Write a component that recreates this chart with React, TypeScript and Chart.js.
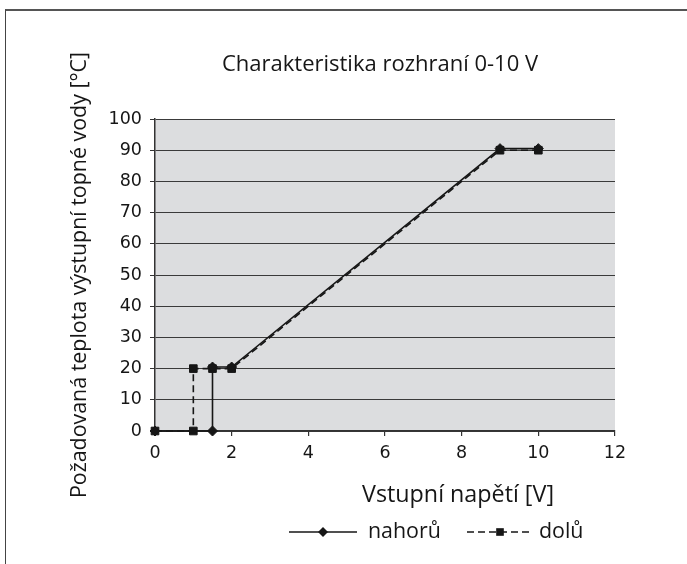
import React, { useEffect, useRef } from "react";
import { Chart, registerables } from "chart.js";

Chart.register(...registerables);

const chartTitle = "Charakteristika rozhraní 0-10 V";
const xAxisTitle = "Vstupní napětí [V]";
const yAxisTitle = "Požadovaná teplota výstupní topné vody [°C]";
const seriesNames = ["nahorů", "dolů"];

const nahoruX = [0, 1.5, 1.5, 2, 9, 10];
const nahoruY = [0, 0, 20.5, 20.5, 90.5, 90.5];
const doluX = [0, 1, 1, 1.5, 2, 9, 10];
const doluY = [0, 0, 20, 20, 20, 90, 90];

const xTickValues = [0, 2, 4, 6, 8, 10, 12];
const yTickValues = [0, 10, 20, 30, 40, 50, 60, 70, 80, 90, 100];

const FAMILY = "'Open Sans', 'DejaVu Sans', sans-serif";
const TICK_FAMILY = "'DejaVu Sans', sans-serif";
const WEIGHT = 500;
const INK = "#161616";

function fitSize(text: string, target: number, family: string, weight: number | string = "normal", ink = false): number {
  const c = document.createElement("canvas");
  const ctx = c.getContext("2d")!;
  ctx.font = `${weight} 20px ${family}`;
  const m = ctx.measureText(text);
  const w = ink ? m.actualBoundingBoxLeft + m.actualBoundingBoxRight : m.width;
  return Math.round(((20 * target) / w) * 10) / 10;
}

function drawMarker(ctx: CanvasRenderingContext2D, style: string, x: number, y: number, r: number) {
  ctx.beginPath();
  if (style === "rectRot") {
    ctx.moveTo(x - r, y);
    ctx.lineTo(x, y - r);
    ctx.lineTo(x + r, y);
    ctx.lineTo(x, y + r);
  } else {
    const s = Math.SQRT1_2 * r;
    ctx.rect(x - s, y - s, 2 * s, 2 * s);
  }
  ctx.closePath();
  ctx.fill();
}

function makeDecor(sizes: { title: number; xt: number; yt: number; leg: number }) {
  return {
    id: "decor",
    beforeDraw(chart: any) {
      const { ctx, chartArea } = chart;
      ctx.save();
      ctx.fillStyle = "#dcdddf";
      ctx.fillRect(chartArea.left, chartArea.top, chartArea.right - chartArea.left, chartArea.bottom - chartArea.top);
      ctx.restore();
    },
    afterDraw(chart: any) {
      const { ctx } = chart;
      ctx.save();
      ctx.fillStyle = INK;
      ctx.textBaseline = "alphabetic";

      ctx.font = `${WEIGHT} ${sizes.title}px ${FAMILY}`;
      ctx.textAlign = "center";
      ctx.fillText(chartTitle, 380, 71);

      ctx.font = `${WEIGHT} ${sizes.xt}px ${FAMILY}`;
      ctx.fillText(xAxisTitle, 458, 502);

      ctx.save();
      ctx.font = `${WEIGHT} ${sizes.yt}px ${FAMILY}`;
      ctx.translate(86, 275);
      ctx.rotate(-Math.PI / 2);
      ctx.textAlign = "center";
      ctx.fillText(yAxisTitle, 0, 0);
      ctx.restore();

      const ds = chart.data.datasets;
      const items = [
        { x0: 289, x1: 357, text: 368 },
        { x0: 467, x1: 533, text: 539 },
      ];
      const ly = 532;
      items.forEach((it, i) => {
        const d = ds[i];
        ctx.save();
        ctx.strokeStyle = d.borderColor;
        ctx.lineWidth = d.borderWidth;
        ctx.setLineDash(d.borderDash || []);
        ctx.beginPath();
        ctx.moveTo(it.x0, ly);
        ctx.lineTo(it.x1, ly);
        ctx.stroke();
        ctx.setLineDash([]);
        ctx.fillStyle = d.pointBackgroundColor;
        drawMarker(ctx, d.pointStyle, (it.x0 + it.x1) / 2, ly, d.pointRadius);
        ctx.restore();
        ctx.font = `${WEIGHT} ${sizes.leg}px ${FAMILY}`;
        ctx.textAlign = "left";
        ctx.fillStyle = INK;
        ctx.fillText(d.label, it.text, 538);
      });
      ctx.restore();
    },
  };
}

export default function App() {
  const canvasRef = useRef<HTMLCanvasElement | null>(null);

  useEffect(() => {
    if (!canvasRef.current) return;
    const sizes = {
      title: fitSize(chartTitle, 316, FAMILY, WEIGHT),
      xt: fitSize(xAxisTitle, 192, FAMILY, WEIGHT),
      yt: fitSize(yAxisTitle, 446, FAMILY, WEIGHT),
      leg: fitSize(seriesNames[0], 73, FAMILY, WEIGHT),
    };
    const tickSize = fitSize("100", 31, TICK_FAMILY, "normal", true);
    const chart = new Chart(canvasRef.current, {
      type: "line",
      data: {
        datasets: [
          {
            label: seriesNames[0],
            data: nahoruX.map((x, i) => ({ x, y: nahoruY[i] })),
            borderColor: INK,
            borderWidth: 1.6,
            pointStyle: "rectRot",
            pointRadius: 5,
            pointBackgroundColor: INK,
            pointBorderColor: INK,
            pointBorderWidth: 1,
            tension: 0,
            clip: false,
            order: 1,
          },
          {
            label: seriesNames[1],
            data: doluX.map((x, i) => ({ x, y: doluY[i] })),
            borderColor: INK,
            borderWidth: 1.6,
            borderDash: [7, 4],
            pointStyle: "rect",
            pointRadius: 5.4,
            pointBackgroundColor: INK,
            pointBorderColor: INK,
            pointBorderWidth: 1,
            tension: 0,
            clip: false,
            order: 2,
          },
        ],
      },
      options: {
        animation: false,
        responsive: false,
        devicePixelRatio: 1,
        layout: { padding: { left: 0, right: 72, top: 119, bottom: 0 } },
        plugins: {
          legend: { display: false },
          title: { display: false },
          tooltip: { enabled: false },
        },
        scales: {
          x: {
            type: "linear",
            min: 0,
            max: 12,
            afterBuildTicks: (scale: any) => {
              scale.ticks = xTickValues.map((v) => ({ value: v }));
            },
            afterFit: (scale: any) => {
              scale.height = 133;
            },
            grid: {
              drawOnChartArea: false,
              drawTicks: true,
              tickLength: 5,
              tickColor: "#333",
              lineWidth: 1.2,
            },
            border: { color: "#333", width: 1.5 },
            ticks: {
              color: INK,
              font: { family: TICK_FAMILY, size: tickSize },
              padding: 7,
              maxRotation: 0,
              autoSkip: false,
            },
          },
          y: {
            type: "linear",
            min: 0,
            max: 100,
            afterBuildTicks: (scale: any) => {
              scale.ticks = yTickValues.map((v) => ({ value: v }));
            },
            afterFit: (scale: any) => {
              scale.width = 155;
            },
            grid: {
              color: "#3a3a3a",
              lineWidth: 1,
              drawTicks: true,
              tickLength: 5,
              tickColor: "#333",
            },
            border: { color: "#333", width: 1.5 },
            ticks: {
              color: INK,
              font: { family: TICK_FAMILY, size: tickSize },
              padding: 8,
              autoSkip: false,
            },
          },
        },
      },
      plugins: [makeDecor(sizes)],
    } as any);
    return () => chart.destroy();
  }, []);

  return (
    <div style={{ position: "absolute", left: 0, top: 0, width: 687, height: 564, background: "#fff", overflow: "hidden" }}>
      <div
        style={{
          position: "absolute",
          left: 5,
          top: 9,
          width: 690,
          height: 600,
          borderTop: "2px solid #555",
          borderLeft: "1.5px solid #444",
        }}
      />
      <canvas ref={canvasRef} width={687} height={564} style={{ position: "absolute", left: 0, top: 0, width: 687, height: 564 }} />
    </div>
  );
}
